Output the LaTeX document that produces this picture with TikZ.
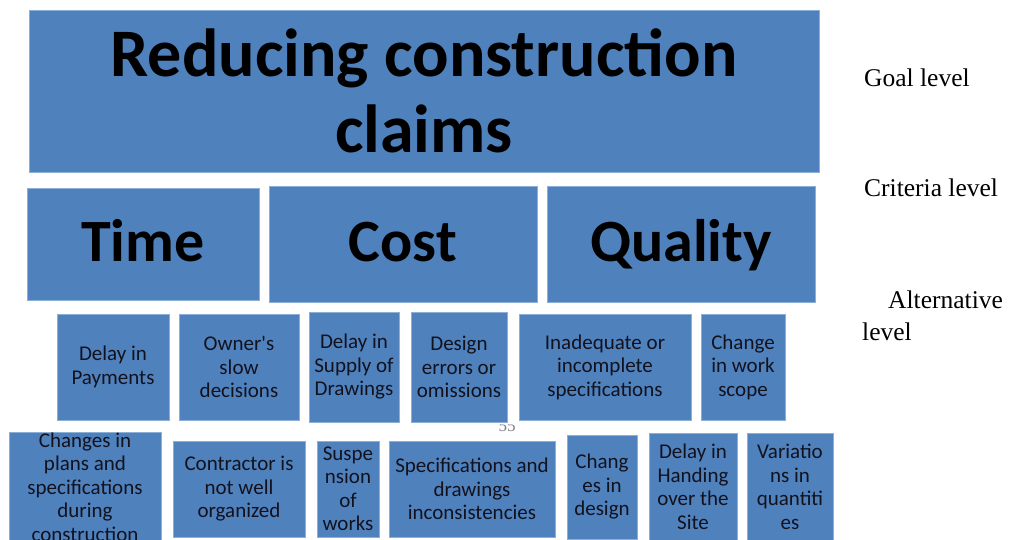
\documentclass[tikz,border=0pt]{standalone}
\usepackage{fontspec}
\newfontfamily\calfont{Carlito}
\newfontfamily\serfont{Liberation Serif}
\definecolor{boxblue}{RGB}{79,129,189}
\definecolor{boxedge}{RGB}{140,175,215}
\definecolor{txtdark}{RGB}{18,18,30}
\tikzset{
  box/.style={rectangle, fill=boxblue, draw=boxedge, line width=0.7pt, inner sep=0pt, align=center},
  bigtxt/.style={font=\calfont\bfseries\fontsize{68}{76}\selectfont, text=black},
  crittxt/.style={font=\calfont\bfseries\fontsize{60}{68}\selectfont, text=black, text height=44pt, text depth=10pt},
  smalltxt/.style={font=\calfont\fontsize{21}{23.5}\selectfont, text=txtdark},
  leveltxt/.style={font=\serfont\fontsize{25.5}{32}\selectfont, text=black, anchor=base west, inner sep=0pt},
}
\begin{document}
\begin{tikzpicture}[x=1pt,y=-1pt]
\useasboundingbox (0,0) rectangle (1011,539);
\clip (0,0) rectangle (1011,539);
\fill[white] (0,0) rectangle (1011,539);

% goal
\node[box, bigtxt, minimum width=790pt, minimum height=162pt] (goal) at (424,91) {Reducing construction\\claims};

% criteria
\node[box, crittxt, minimum width=232pt, minimum height=112pt] (time) at (143,244) {Time};
\node[box, crittxt, minimum width=268pt, minimum height=116pt] (cost) at (403,244) {Cost};
\node[box, crittxt, minimum width=268pt, minimum height=116pt] (quality) at (681,244) {Quality};

% alternatives row 1
\node[box, smalltxt, minimum width=112pt, minimum height=106pt] (pay) at (113,367) {Delay in\\Payments};
\node[box, smalltxt, minimum width=120pt, minimum height=106pt] (own) at (239,367) {Owner's\\slow\\decisions};
\node[box, smalltxt, minimum width=90pt, minimum height=110pt] (sup) at (354,367) {Delay in\\Supply of\\Drawings};
\node[box, smalltxt, minimum width=96pt, minimum height=110pt] (des) at (459,367) {Design\\errors or\\omissions};
\node[box, smalltxt, minimum width=172pt, minimum height=106pt] (inad) at (605,367) {Inadequate or\\incomplete\\specifications};
\node[box, smalltxt, minimum width=84pt, minimum height=106pt] (scope) at (743,367) {Change\\in work\\scope};

% page number partly hidden
\begin{scope}
\clip (485,424) rectangle (530,445);
\node[font=\serfont\fontsize{17}{18}\selectfont, text=gray, inner sep=0pt] (pnum) at (507,426) {55};
\end{scope}

% alternatives row 2
\node[box, smalltxt, minimum width=152pt, minimum height=98pt] (plans) at (85,487) {Changes in\\plans and\\specifications\\during\\construction};
\node[box, smalltxt, minimum width=132pt, minimum height=96pt] (contr) at (239,489) {Contractor is\\not well\\organized};
\node[box, smalltxt, minimum width=62pt, minimum height=96pt] (susp) at (348,489) {Suspe\\nsion\\of\\works};
\node[box, smalltxt, minimum width=166pt, minimum height=96pt] (spec) at (472,489) {Specifications and\\drawings\\inconsistencies};
\node[box, smalltxt, minimum width=70pt, minimum height=104pt] (cdes) at (602,487) {Chang\\es in\\design};
\node[box, smalltxt, minimum width=88pt, minimum height=108pt] (hand) at (693,487) {Delay in\\Handing\\over the\\Site};
\node[box, smalltxt, minimum width=86pt, minimum height=108pt] (var) at (790,487) {Variatio\\ns in\\quantiti\\es};

% level labels
\node[leveltxt] (lgoal) at (864,86) {Goal level};
\node[leveltxt] (lcrit) at (864,196) {Criteria level};
\node[leveltxt] (lalt1) at (888,308) {Alternative};
\node[leveltxt] (lalt2) at (862,340) {level};
\end{tikzpicture}
\end{document}
